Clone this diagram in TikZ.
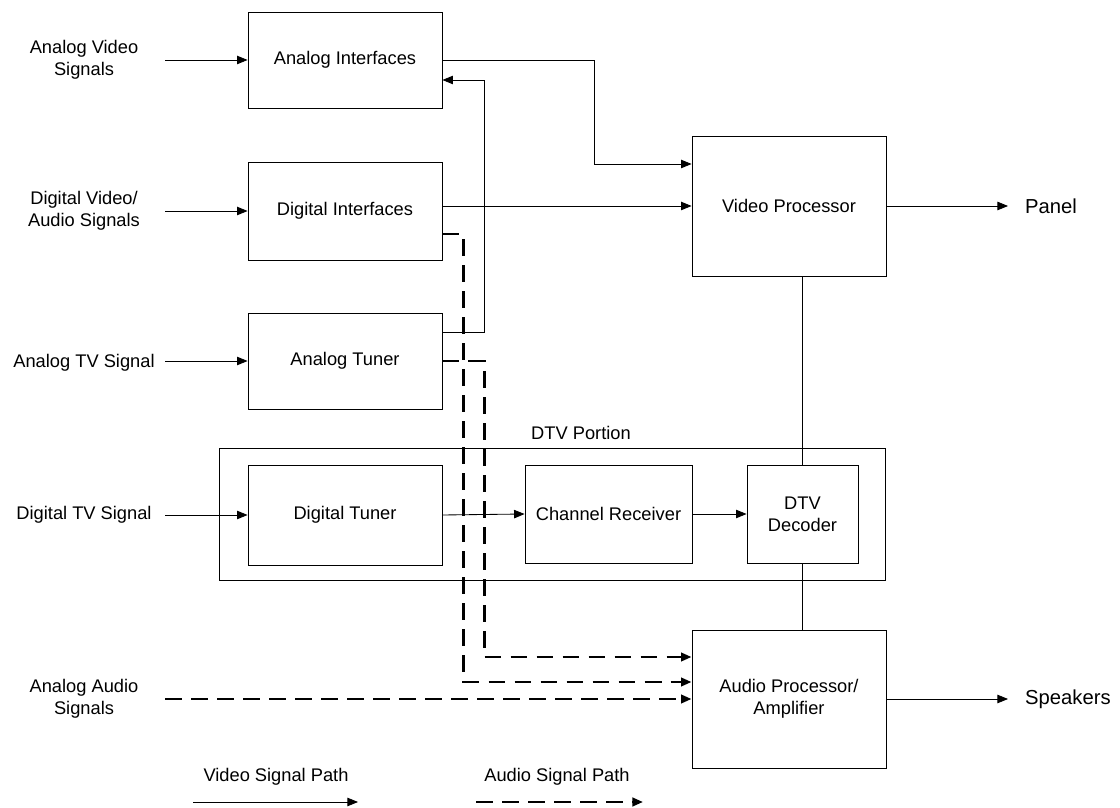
\documentclass[tikz,border=0pt]{standalone}
\usepackage{fontspec}
\setmainfont{Liberation Sans}
\usetikzlibrary{arrows.meta,positioning,calc}

\begin{document}
\begin{tikzpicture}[
  every node/.style={font=\fontsize{13}{15.6}\selectfont},
  block/.style={draw, line width=0.6pt, minimum width=4.85cm, minimum height=2.4cm, align=center},
  inlbl/.style={align=center},
  outlbl/.style={anchor=west, inner xsep=12pt, font=\fontsize{14.4}{17}\selectfont},
  vid/.style={-{Triangle[length=7.5pt,width=6pt]}, line width=0.6pt},
  aud/.style={vid, line width=1.8pt, dash pattern=on 12pt off 6.5pt}
]
\useasboundingbox (0,0) rectangle (28,20.175);

% DTV portion frame
\node[draw, line width=0.6pt, minimum width=16.65cm, minimum height=3.3cm] (dtvbox) at (13.8, 7.325) {};
\node (dtvlbl) at (14.525, 9.35) {DTV Portion};

% blocks
\node[block] (aif) at (8.625, 18.675) {Analog Interfaces};
\node[block, minimum height=2.45cm] (dif) at (8.625, 14.9) {Digital Interfaces};
\node[block] (atun) at (8.625, 11.15) {Analog Tuner};
\node[block, minimum height=3.5cm] (vproc) at (19.725, 15.025) {Video Processor};
\node[block, minimum height=2.5cm] (dtun) at (8.625, 7.3) {Digital Tuner};
\node[block, minimum width=4.175cm, minimum height=2.45cm] (chrx) at (15.2125, 7.325) {Channel Receiver};
\node[block, minimum width=2.775cm, minimum height=2.45cm] (dtvd) at (20.0625, 7.325) {DTV\\Decoder};
\node[block, minimum height=3.45cm] (aproc) at (19.725, 2.7) {Audio Processor/\\Amplifier};

% inputs
\node[inlbl] (avs) at (2.1, 18.675) {Analog Video\\Signals};
\node[inlbl] (dvs) at (2.1, 14.9) {Digital Video/\\Audio Signals};
\node[inlbl] (ats) at (2.1, 11.1) {Analog TV Signal};
\node[inlbl] (dts) at (2.1, 7.3) {Digital TV Signal};
\node[inlbl] (aas) at (2.1, 2.7) {Analog Audio\\Signals};
\coordinate (avs-in) at (4.125, 18.675);
\coordinate (dvs-in) at (4.125, 14.9);
\coordinate (ats-in) at (4.125, 11.15);
\coordinate (dts-in) at (4.125, 7.3);
\coordinate (aas-in) at (4.125, 2.7);

% outputs
\node[outlbl] (panel) at (25.2, 15.025) {Panel};
\node[outlbl] (spk) at (25.2, 2.7) {Speakers};

% legend
\node (vleg) at (6.9, 0.75) {Video Signal Path};
\node (aleg) at (13.925, 0.75) {Audio Signal Path};
\coordinate (vleg-a) at (4.825, 0.125);
\coordinate (vleg-b) at (8.95, 0.125);
\coordinate (aleg-a) at (11.9, 0.125);
\coordinate (aleg-b) at (16.075, 0.125);
\coordinate (bend1) at (14.85, 16.075);

% video paths
\draw[vid] (avs-in) -- (aif.west);
\draw[vid] (dvs-in) -- (dif.west);
\draw[vid] (ats-in) -- (atun.west);
\draw[vid] (dts-in) -- (dtun.west);
\draw[vid] (aif.east) -| (bend1) -- (bend1 -| vproc.west);
\draw[vid] (vproc.west -| dif.east) -- (vproc.west);
\draw[vid] ($(atun.east)+(0,0.725)$) -- ++(1.05,0) |- ($(aif.east)+(0,-0.5)$);
\draw[vid] (dtun.east) -- (chrx.west);
\draw[vid] (chrx.east) -- (dtvd.west);
\draw[line width=0.6pt] (dtvd.north) -- (dtvd.north |- vproc.south);
\draw[line width=0.6pt] (dtvd.south) -- (dtvd.south |- aproc.north);
\draw[vid] (vproc.east) -- (panel.west);
\draw[vid] (aproc.east) -- (spk.west);

% audio paths
\draw[aud] ($(dif.east)+(0,-0.575)$) -- ++(0.525,0) |- ($(aproc.west)+(0,0.425)$);
\draw[aud] (atun.east) -- ++(1.05,0) |- ($(aproc.west)+(0,1.05)$);
\draw[aud] (aas-in) -- (aproc.west);

\draw[vid] (vleg-a) -- (vleg-b);
\draw[aud] (aleg-a) -- (aleg-b);
\end{tikzpicture}
\end{document}
